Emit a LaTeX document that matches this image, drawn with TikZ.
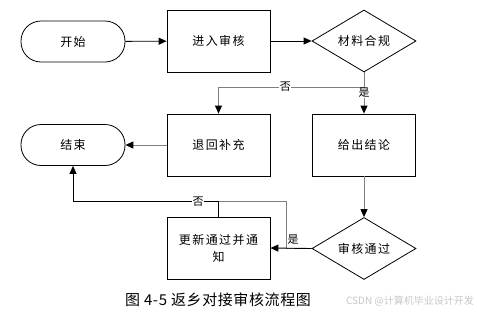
\documentclass[tikz,border=0pt]{standalone}
\usepackage{fontspec}
\usetikzlibrary{shapes.geometric,arrows.meta}
\newfontfamily\cjk[LetterSpace=12]{Noto Sans CJK SC}
\newfontfamily\cjkplain{Noto Sans CJK SC}
\newfontfamily\cjkcap[LetterSpace=4]{Noto Sans CJK SC}
\definecolor{lgray}{HTML}{7F7F7F}
\definecolor{wmgray}{HTML}{C8C8C8}
\begin{document}
\begin{tikzpicture}[x=1pt,y=-1pt,
  txt/.style={font=\cjk\fontsize{12}{17}\selectfont},
  pill/.style={draw, txt, rounded corners=20pt, minimum width=104pt, minimum height=41pt, line width=0.8pt},
  proc/.style={draw, txt, minimum width=103pt, minimum height=62pt, line width=0.8pt, align=center},
  dec/.style={draw, txt, diamond, aspect=1.68, minimum width=104pt, minimum height=62pt, inner sep=0pt, line width=0.8pt},
  arr/.style={-{Triangle[length=8pt,width=7pt,color=black]}, line width=0.9pt},
  ln/.style={line width=0.9pt},
  glbl/.style={fill=white, inner sep=0.5pt, font=\cjkplain\fontsize{11}{12}\selectfont}
]
\useasboundingbox (0,0) rectangle (477,314);
\fill[white] (0,0) rectangle (477,314);

\node[pill] (start) at (73,41.5) {开始};
\node[proc] (audit) at (218.5,41) {进入审核};
\node[dec] (check) at (364,41) {材料合规};
\node[proc] (back) at (218.5,145) {退回补充};
\node[proc] (concl) at (364,145) {给出结论};
\node[pill] (finish) at (73,145) {结束};
\node[proc] (update) at (218.5,248) {更新通过并通\\知};
\node[dec] (pass) at (364,248.5) {审核通过};

\coordinate (j0) at (364,87);
\coordinate (j1) at (286,201.5);

\draw[arr] (start) -- (audit);
\draw[arr] (audit) -- (check);
\draw[arr,lgray] (check.south) -- (j0) -| node[pos=0.27,glbl,text=black]{否} (back.north);
\draw[arr,lgray] (check.south) -- node[pos=0.5,glbl,text=black]{是} (concl.north);
\draw[arr,lgray] (back) -- (finish);
\draw[arr,lgray] (concl) -- (pass);
\draw[ln,lgray] (pass.west) -| (j1) -- (update.north |- j1);
\draw[arr] (pass.west) -- (update.east);
\draw[arr] (update.north) |- node[pos=0.57,glbl]{否} (finish.south |- j1) -- (finish.south);
\node[glbl,fill=none] (yes2) at (293,240) {是};

\node[font=\cjkcap\fontsize{15}{17}\selectfont] (cap) at (218,300) {图 4-5 返乡对接审核流程图};
\node[font=\cjkplain\fontsize{10}{12}\selectfont, text=wmgray] (wm) at (410,301) {CSDN @计算机毕业设计开发};
\end{tikzpicture}
\end{document}
